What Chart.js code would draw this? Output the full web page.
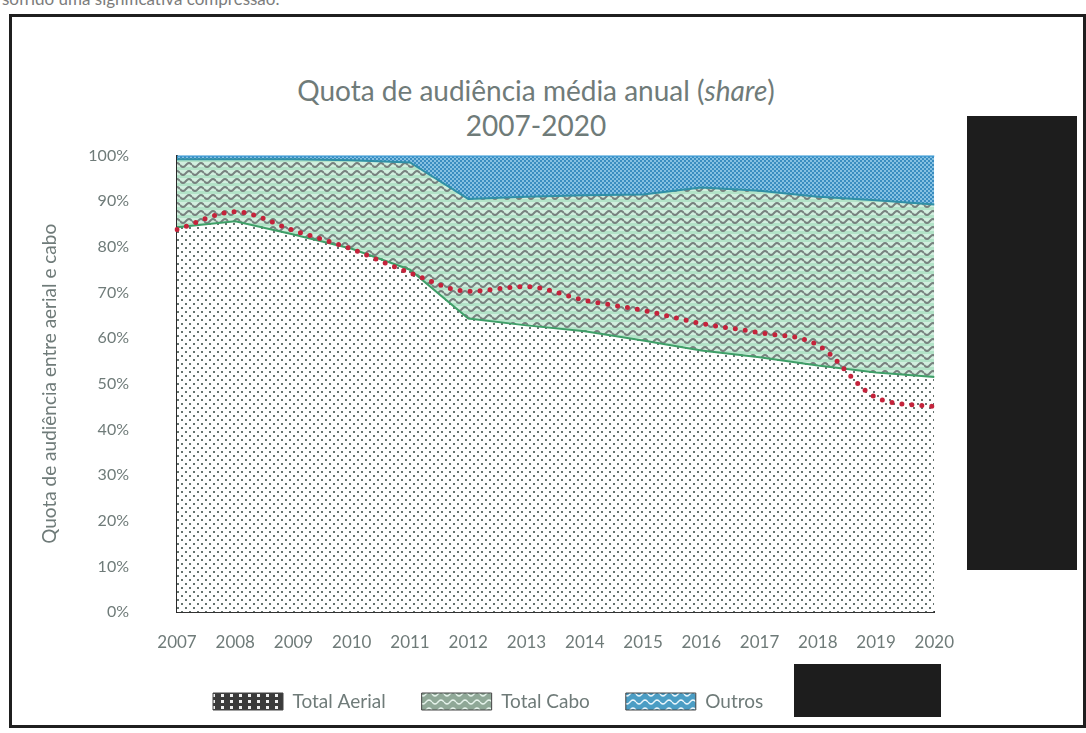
<!DOCTYPE html>
<html lang="pt">
<head>
<meta charset="UTF-8">
<title>Quota de audiência média anual (share) 2007-2020</title>
<script src="https://cdn.jsdelivr.net/npm/chart.js@4.4.1/dist/chart.umd.min.js"></script>
<style>
	body { margin: 0; width: 1086px; height: 733px; background: #fff; position: relative; overflow: hidden; font-family: Lato, "Open Sans", sans-serif; }
	#topo { position: absolute; left: 2px; top: 0; width: 400px; height: 8px; overflow: hidden; }
	#topo span { position: relative; top: -12px; font-size: 17px; color: #7c7c7c; white-space: nowrap; }
	#moldura { position: absolute; left: 9px; top: 14px; width: 1077px; height: 714px; border: 3px solid #1f1f1f; box-sizing: border-box; }
	#titulo { position: absolute; left: 186px; width: 700px; top: 73px; text-align: center; font-size: 28px; line-height: 35px; color: #6f7b79; }
	#caixa { position: absolute; left: 12px; top: 98px; width: 962px; height: 629px; }
	.tarja { position: absolute; background: #1d1d1d; }
</style>
</head>
<body>
	<div id="topo"><span>sofrido uma significativa compressão.</span></div>
	<div id="moldura"></div>
	<div id="titulo">Quota de audiência média anual (<i>share</i>)<br>2007-2020</div>
	<div id="caixa"><canvas id="grafico"></canvas></div>
	<div class="tarja" style="left:967px; top:116px; width:110px; height:454px;"></div>
	<div class="tarja" style="left:794px; top:664px; width:147px; height:53px;"></div>

	<script>
		// dados (%)
		const anos = ['2007', '2008', '2009', '2010', '2011', '2012', '2013', '2014', '2015', '2016', '2017', '2018', '2019', '2020']
		const totalAerial = [84.3, 85.6, 82.7, 79.6, 75.0, 64.3, 62.8, 61.5, 59.5, 57.3, 55.8, 54.0, 52.5, 51.5]
		const totalCabo = [14.9, 13.6, 16.5, 19.4, 23.5, 26.2, 28.2, 29.8, 32.0, 35.7, 36.5, 37.0, 37.7, 37.8]
		const outros = [0.8, 0.8, 0.8, 1.0, 1.5, 9.5, 9.0, 8.7, 8.5, 7.0, 7.7, 9.0, 9.8, 10.7]
		const serieOculta = [83.8, 87.7, 83.6, 79.5, 74.3, 70.3, 71.3, 68.3, 66.1, 63.2, 61.2, 58.5, 47.0, 45.0]
		const nomes = ['Total Aerial', 'Total Cabo', 'Outros', '']

		const cinza = '#6f7b79'
		const ctx = document.getElementById('grafico').getContext('2d')

		const padrao = (w, h, desenhar) => {
			const c = document.createElement('canvas')
			c.width = w
			c.height = h
			desenhar(c.getContext('2d'), w, h)
			return ctx.createPattern(c, 'repeat')
		}

		const onda = (g, w, y, cor, esp) => {
			g.strokeStyle = cor
			g.lineWidth = esp
			g.beginPath()
			for (let x = 0; x <= w; x++) {
				const yy = y + 2 * Math.sin(x / w * Math.PI * 2)
				x === 0 ? g.moveTo(x, yy) : g.lineTo(x, yy)
			}
			g.stroke()
		}

		// padrões das áreas
		const pontos = padrao(8, 8, (g, w, h) => {
			g.fillStyle = '#fff'
			g.fillRect(0, 0, w, h)
			g.fillStyle = '#66736f'
			g.fillRect(1, 1, 2, 2)
			g.fillRect(5, 5, 2, 2)
		})
		const ondas = padrao(12, 8, (g, w, h) => {
			g.fillStyle = '#d2efdf'
			g.fillRect(0, 0, w, h)
			g.fillStyle = '#b3e3c8'
			g.fillRect(0, 5, w, 3)
			onda(g, w, 3, '#77817e', 2)
		})
		const xadrez = padrao(4, 4, (g, w, h) => {
			g.fillStyle = '#3a8dc0'
			g.fillRect(0, 0, w, h)
			g.fillStyle = '#86c1e2'
			g.fillRect(0, 0, 2, 2)
			g.fillRect(2, 2, 2, 2)
		})

		// padrões da legenda
		const legAerial = padrao(9, 6, (g, w, h) => {
			g.fillStyle = '#3b3b3b'
			g.fillRect(0, 0, w, h)
			g.fillStyle = '#f2f2f2'
			g.fillRect(2, 2, 3, 3)
		})
		const legCabo = padrao(12, 8, (g, w, h) => {
			g.fillStyle = '#8fa897'
			g.fillRect(0, 0, w, h)
			onda(g, w, 4, '#e4f2ea', 1.5)
		})
		const legOutros = padrao(12, 8, (g, w, h) => {
			g.fillStyle = '#4b9dc4'
			g.fillRect(0, 0, w, h)
			onda(g, w, 4, '#e9f5fb', 1.5)
		})
		const padroesLegenda = [legAerial, legCabo, legOutros, '#1d1d1d']

		const grafico = new Chart(ctx, {
			type: 'line',
			data: {
				labels: anos,
				datasets: [
					{ label: nomes[0], data: totalAerial, fill: 'origin', backgroundColor: pontos, borderColor: '#3f9f68', borderWidth: 2 },
					{ label: nomes[1], data: totalCabo, fill: '-1', backgroundColor: ondas, borderColor: '#2f8fa6', borderWidth: 2 },
					{ label: nomes[2], data: outros, fill: '-1', backgroundColor: xadrez, borderColor: '#3e9bd6', borderWidth: 2.5 },
					{
						label: nomes[3], data: serieOculta, stack: 'oculta', order: -1, fill: false,
						borderColor: '#c4233b', borderWidth: 5, borderDash: [0, 10], borderCapStyle: 'round',
						cubicInterpolationMode: 'monotone'
					}
				]
			},
			options: {
				responsive: true,
				maintainAspectRatio: false,
				animation: false,
				elements: { point: { radius: 0 }, line: { tension: 0 } },
				layout: { padding: { top: 0, right: 0, bottom: 6, left: 0 } },
				scales: {
					x: {
						grid: { display: false, drawTicks: false },
						border: { color: '#333', width: 2 },
						ticks: { color: cinza, font: { family: 'Lato', size: 17 }, padding: 20, maxRotation: 0, autoSkip: false },
						afterFit: s => { s.height = 44 }
					},
					y: {
						stacked: true,
						min: 0,
						max: 100,
						grid: { display: false, drawTicks: false },
						border: { color: '#2a2a2a', width: 2 },
						ticks: { stepSize: 10, color: cinza, font: { family: 'Lato', size: 16 }, padding: 48, callback: v => v + '%' },
						title: { display: true, text: 'Quota de audiência entre aerial e cabo', color: cinza, font: { family: 'Lato', size: 19 }, padding: { top: 26, bottom: 0 } },
						afterFit: s => { s.width = 165 }
					}
				},
				plugins: {
					tooltip: { enabled: false },
					legend: {
						position: 'bottom',
						align: 'start',
						fullSize: false,
						labels: {
							boxWidth: 70,
							boxHeight: 17,
							padding: 36,
							color: cinza,
							font: { family: 'Lato', size: 19 },
							sort: (a, b) => a.datasetIndex - b.datasetIndex,
							generateLabels: chart => {
								const itens = Chart.defaults.plugins.legend.labels.generateLabels(chart)
								itens.forEach(it => {
									const i = it.datasetIndex
									it.fillStyle = padroesLegenda[i]
									it.strokeStyle = '#444'
									it.lineWidth = i === 3 ? 0 : 1
									it.lineDash = []
								})
								return itens
							}
						}
					}
				}
			}
		})
	</script>
</body>
</html>
